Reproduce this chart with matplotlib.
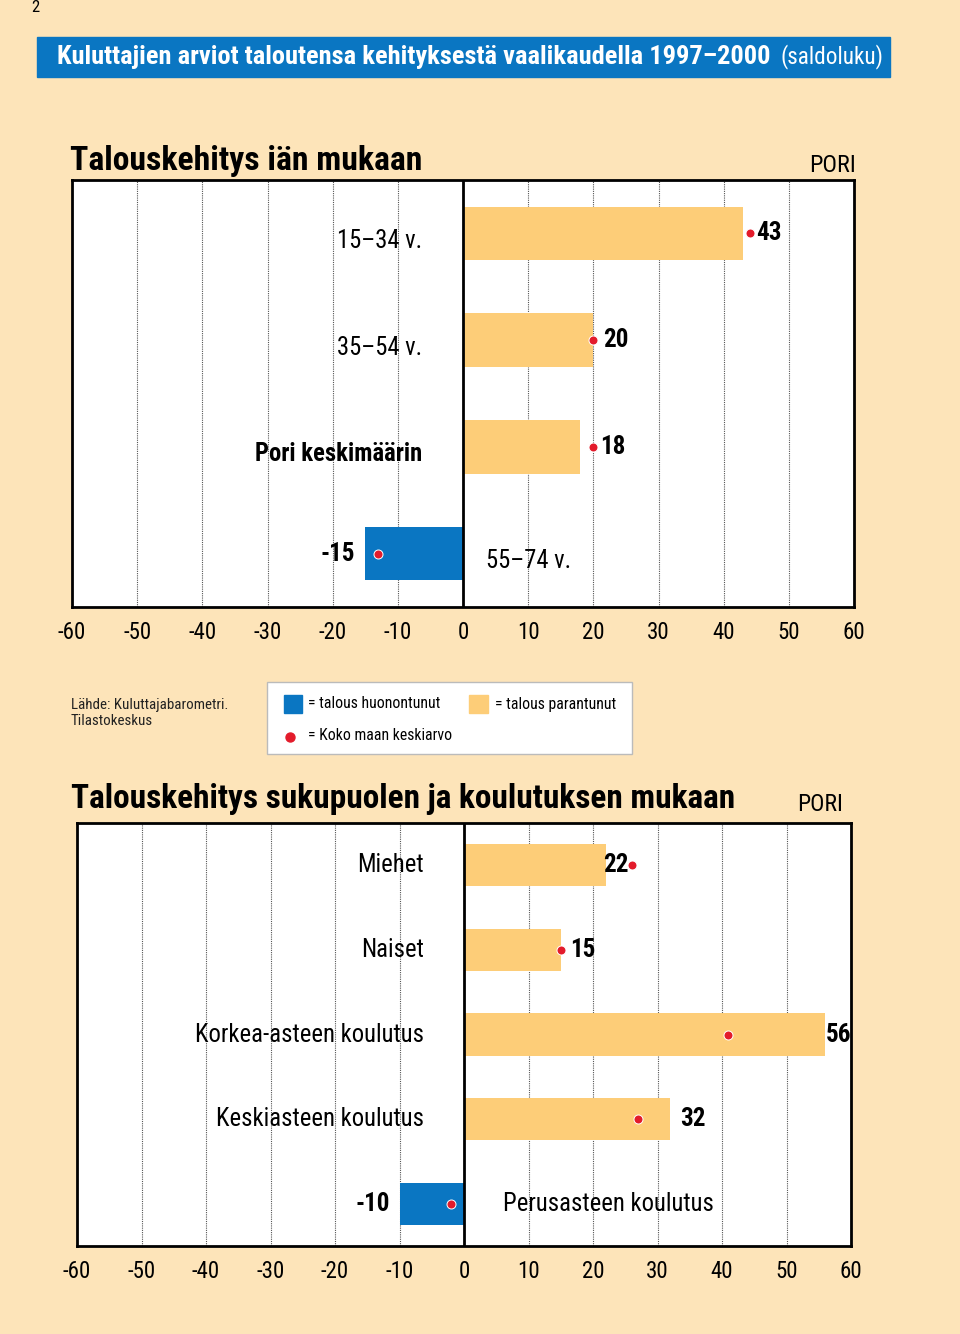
import matplotlib.pyplot as plt
from matplotlib import font_manager
from matplotlib.patches import Rectangle

W, H = 960, 1334
BG = '#fde4b9'
BLUE = '#0a76c2'
ORANGE = '#fdcd78'
RED = '#e31b2b'

# condensed face if there is one, else Liberation Sans
installed = {f.name for f in font_manager.fontManager.ttflist}
FONT = 'Liberation Sans'
for cand in ['Liberation Sans Narrow', 'Roboto Condensed', 'Open Sans Condensed', 'Liberation Sans']:
    if cand in installed:
        FONT = cand
        break
plt.rcParams['font.family'] = [FONT, 'DejaVu Sans']
plt.rcParams['axes.unicode_minus'] = False

# chart 1: by age
age_labels = ['15–34 v.', '35–54 v.', 'Pori keskimäärin', '55–74 v.']
age_values = [43, 20, 18, -15]
age_national = [44, 20, 20, -13]

# chart 2: by sex and education
group_labels = ['Miehet', 'Naiset', 'Korkea-asteen koulutus',
                'Keskiasteen koulutus', 'Perusasteen koulutus']
group_values = [22, 15, 56, 32, -10]
group_national = [26, 15, 41, 27, -2]

ticks = list(range(-60, 61, 10))

fig = plt.figure(figsize=(W / 100, H / 100), dpi=100, facecolor=BG)
renderer = fig.canvas.get_renderer()


def fit_size(text, width, weight='normal'):
    """font size that makes text about width pixels wide"""
    t = fig.text(0, 0, text, fontsize=10, fontweight=weight)
    w = t.get_window_extent(renderer=renderer).width
    t.remove()
    return 10 * width / w


CAT_SIZE = fit_size('Korkea-asteen koulutus', 227)
VAL_SIZE = CAT_SIZE * 1.02
TICK_SIZE = fit_size('-60', 28)
LEG_SIZE = fit_size('= Koko maan keskiarvo', 143)


def px_axes(left, top, right, bottom):
    return fig.add_axes([left / W, 1 - bottom / H, (right - left) / W, (bottom - top) / H])


def draw_chart(ax, labels, values, national, name_shift=0.0, neg_gap=4.5, bold_names=()):
    pos = list(range(len(labels)))
    colors = [ORANGE if v >= 0 else BLUE for v in values]
    ax.barh(pos, values, height=0.5, color=colors, zorder=2)
    ax.scatter(national, pos, s=42, color=RED, edgecolors='white', linewidths=0.7, zorder=6)
    ax.axvline(0, color='black', lw=2, zorder=3)
    for p, lab, v, n in zip(pos, labels, values, national):
        weight = 'bold' if lab in bold_names else 'normal'
        if v >= 0:
            ax.text(-6.2, p + name_shift, lab, ha='right', va='center',
                    fontsize=CAT_SIZE, fontweight=weight, zorder=5)
            ha = 'left'
            if v < n < v + 3:
                vx = n + 1
            elif n >= v + 3:
                vx = v - 0.5
            elif v + 5.5 > 60:
                vx, ha = 60, 'right'
            else:
                vx = v + 1.5
            ax.text(vx, p, str(v), ha=ha, va='center', fontsize=VAL_SIZE,
                    fontweight='bold', zorder=5)
        else:
            ax.text(neg_gap, p + name_shift, lab, ha='left', va='center',
                    fontsize=CAT_SIZE, fontweight=weight, zorder=5)
            ax.text(v - 1.5, p, str(v), ha='right', va='center', fontsize=VAL_SIZE,
                    fontweight='bold', zorder=5)
    ax.set_xlim(-60, 60)
    ax.set_ylim(len(labels) - 0.5, -0.5)
    ax.set_xticks(ticks)
    ax.set_xticklabels([str(t) for t in ticks], fontsize=TICK_SIZE)
    ax.set_yticks([])
    ax.tick_params(axis='x', length=0, pad=10)
    ax.grid(axis='x', color='#555555', linestyle=(0, (1, 1)), lw=0.8, zorder=1)
    ax.set_facecolor('white')
    for s in ax.spines.values():
        s.set_linewidth(2)
        s.set_color('black')


# overlay in pixel coordinates for titles and legend
ov = fig.add_axes([0, 0, 1, 1])
ov.set_xlim(0, W)
ov.set_ylim(H, 0)
ov.axis('off')

ov.text(31, 8, '2', fontsize=12, va='center', ha='left')

title = 'Kuluttajien arviot taloutensa kehityksestä vaalikaudella 1997–2000'
ov.add_patch(Rectangle((37, 37), 853, 40, color=BLUE))
ov.text(57, 57, title, color='white', fontsize=fit_size(title, 714, 'bold'),
        fontweight='bold', va='center', ha='left')
ov.text(781, 57, '(saldoluku)', color='white', fontsize=fit_size('(saldoluku)', 103),
        va='center', ha='left')

head1 = 'Talouskehitys iän mukaan'
ov.text(70, 170, head1, fontsize=fit_size(head1, 352, 'bold'), fontweight='bold',
        va='baseline', ha='left')
ov.text(856, 172, 'PORI', fontsize=fit_size('PORI', 47), va='baseline', ha='right')

ov.text(71, 713, 'Lähde: Kuluttajabarometri.\nTilastokeskus',
        fontsize=fit_size('Lähde: Kuluttajabarometri.', 157),
        va='center', ha='left', color='#222222', linespacing=1.2)

ov.add_patch(Rectangle((267, 682), 365, 72, facecolor='white', edgecolor='#bbbbbb', lw=1))
ov.add_patch(Rectangle((284, 695), 18, 18, color=BLUE))
ov.add_patch(Rectangle((469, 695), 19, 18, color=ORANGE))
ov.scatter([290], [737], s=42, color=RED, zorder=3)
ov.text(308, 704, '= talous huonontunut', fontsize=LEG_SIZE, va='center', ha='left')
ov.text(495, 704, '= talous parantunut', fontsize=LEG_SIZE, va='center', ha='left')
ov.text(308, 735, '= Koko maan keskiarvo', fontsize=LEG_SIZE, va='center', ha='left')

head2 = 'Talouskehitys sukupuolen ja koulutuksen mukaan'
ov.text(71, 808, head2, fontsize=fit_size(head2, 663, 'bold'),
        fontweight='bold', va='baseline', ha='left')
ov.text(843, 811, 'PORI', fontsize=fit_size('PORI', 46), va='baseline', ha='right')

ax1 = px_axes(72, 180, 854, 607)
draw_chart(ax1, age_labels, age_values, age_national, name_shift=0.07, neg_gap=3.5,
           bold_names=('Pori keskimäärin',))

ax2 = px_axes(77, 823, 851, 1246)
draw_chart(ax2, group_labels, group_values, group_national, neg_gap=6)

fig.savefig('out.png', dpi=100, facecolor=BG)
